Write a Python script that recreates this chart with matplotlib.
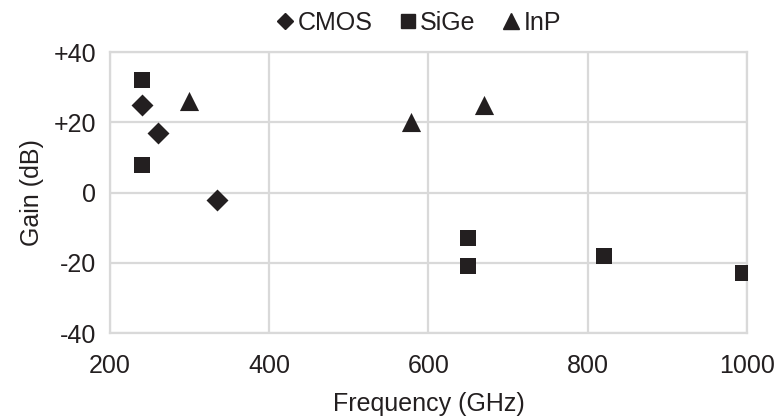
import matplotlib

matplotlib.use("Agg")
import matplotlib.pyplot as plt
from matplotlib.lines import Line2D

# values
cmos_freq = [240, 260, 335]
cmos_gain = [25, 17, -2]
sige_freq = [240, 240, 650, 650, 820, 995]
sige_gain = [32, 8, -13, -21, -18, -23]
inp_freq = [300, 578, 670]
inp_gain = [26, 20, 25]

x_ticks = [200, 400, 600, 800, 1000]
y_ticks = [-40, -20, 0, 20, 40]
y_tick_labels = ["-40", "-20", "0", "+20", "+40"]

plt.rcParams["font.family"] = ["Liberation Sans", "DejaVu Sans"]
grid_color = "#d9d9d9"
ink = "#231f20"
font_size = 18

fig = plt.figure(figsize=(7.79, 4.17), dpi=100)
ax = fig.add_axes([0.141, 0.201, 0.818, 0.674])

ax.scatter(cmos_freq, cmos_gain, marker="D", s=125, color=ink, zorder=3, linewidths=0)
ax.scatter(sige_freq, sige_gain, marker="s", s=135, color=ink, zorder=3, linewidths=0)
ax.scatter(inp_freq, inp_gain, marker="^", s=190, color=ink, zorder=3, linewidths=0)

ax.set_xlim(200, 1000)
ax.set_ylim(-40, 40)
ax.set_xticks(x_ticks)
ax.set_yticks(y_ticks)
ax.set_yticklabels(y_tick_labels)
ax.grid(True, color=grid_color, linewidth=1.6, zorder=0)
ax.set_axisbelow(True)
for spine in ax.spines.values():
    spine.set_color(grid_color)
    spine.set_linewidth(1.6)
ax.tick_params(length=0, labelsize=font_size, colors=ink)
ax.tick_params(axis="y", pad=10)
ax.tick_params(axis="x", pad=15)
ax.set_xlabel("Frequency (GHz)", fontsize=font_size, color=ink, labelpad=10)
ax.set_ylabel("Gain (dB)", fontsize=font_size, color=ink, labelpad=7)

handles = [
    Line2D([], [], marker="D", linestyle="none", color=ink, markersize=8, label="CMOS"),
    Line2D([], [], marker="s", linestyle="none", color=ink, markersize=10, label="SiGe"),
    Line2D([], [], marker="^", linestyle="none", color=ink, markersize=11, label="InP"),
]
leg = fig.legend(handles=handles, loc="center", bbox_to_anchor=(0.535, 0.945), ncol=3,
                 frameon=False, fontsize=font_size, handletextpad=0.0, columnspacing=0.9,
                 handlelength=1.0)
for text in leg.get_texts():
    text.set_color(ink)

fig.savefig("out.png", dpi=100)
